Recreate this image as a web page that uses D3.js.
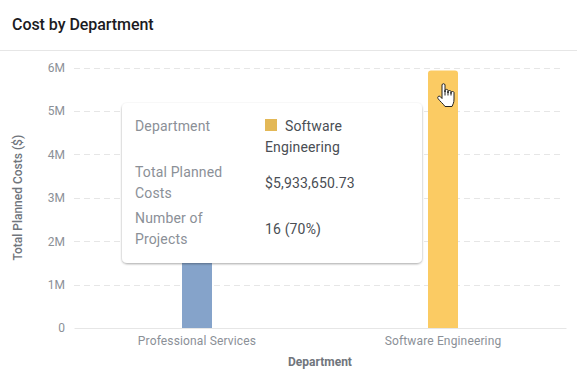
<!DOCTYPE html>
<html>
<head>
<meta charset="utf-8">
<script src="https://cdn.jsdelivr.net/npm/d3@7"></script>
<style>
body { margin: 0; background: #fff; font-family: Roboto, sans-serif; }
svg { display: block; }
text { font-family: Roboto, sans-serif; }
</style>
</head>
<body>
<div id="my_dataviz"></div>
<script>
var departments = ["Professional Services", "Software Engineering"];
var plannedCosts = [2500000, 5933650.73];
var barColors = ["#85a3ca", "#fbcb63"];
var yTicks = [0, 1000000, 2000000, 3000000, 4000000, 5000000, 6000000];
var tipLabels = [["Department"], ["Total Planned", "Costs"], ["Number of", "Projects"]];
var tipDepartment = ["Software", "Engineering"];
var tipCost = "$5,933,650.73";
var tipProjects = "16 (70%)";

var width = 577, height = 372;
var margin = {top: 67.5, right: 11, bottom: 44, left: 73};

var svg = d3.select("#my_dataviz")
  .append("svg")
  .attr("width", width)
  .attr("height", height);

// tooltip shadow
var defs = svg.append("defs");
var shadow = defs.append("filter").attr("id", "tipShadow")
  .attr("x", "-5%").attr("y", "-5%").attr("width", "110%").attr("height", "112%");
shadow.append("feDropShadow").attr("dx", 0).attr("dy", 1).attr("stdDeviation", 0.8)
  .attr("flood-color", "#000").attr("flood-opacity", 0.35);

// header
svg.append("text")
  .attr("x", 12).attr("y", 30)
  .style("font-size", "16px").style("font-weight", 500).style("fill", "#1b1b22")
  .style("letter-spacing", "-0.05px")
  .text("Cost by Department");
svg.append("line")
  .attr("x1", 0).attr("x2", width).attr("y1", 50.5).attr("y2", 50.5)
  .style("stroke", "#e6e6e6");

var x = d3.scaleBand()
  .domain(departments)
  .range([margin.left + 1, width - margin.right]);

var y = d3.scaleLinear()
  .domain([0, 6000000])
  .range([height - margin.bottom, margin.top]);

// gridlines
svg.append("g").selectAll("line")
  .data(yTicks.filter(function(d) { return d > 0; }))
  .enter().append("line")
  .attr("x1", margin.left + 1).attr("x2", width - 13)
  .attr("y1", function(d) { return Math.round(y(d)) + 0.5; })
  .attr("y2", function(d) { return Math.round(y(d)) + 0.5; })
  .style("stroke", "#e6e6e6").style("stroke-dasharray", "6,4");

// y axis
var yAxis = svg.append("g")
  .attr("transform", "translate(" + margin.left + ",0)")
  .call(d3.axisLeft(y).tickValues(yTicks).tickSize(0).tickPadding(8)
    .tickFormat(function(d) { return d === 0 ? "0" : (d / 1000000) + "M"; }));
yAxis.select(".domain").remove();
yAxis.selectAll("text").style("font-size", "12px").style("fill", "#8b9097");

// x axis
var xAxis = svg.append("g")
  .attr("transform", "translate(0," + (height - margin.bottom) + ")")
  .call(d3.axisBottom(x).tickSize(0).tickPadding(8));
xAxis.select(".domain").style("stroke", "#e6e6e6");
xAxis.selectAll("text").style("font-size", "12px").style("fill", "#8b9097").style("letter-spacing", "0.15px");

// axis labels
svg.append("text")
  .attr("transform", "translate(22," + ((y(0) + y(6000000)) / 2) + ") rotate(-90)")
  .attr("text-anchor", "middle")
  .style("font-size", "12px").style("font-weight", 500).style("fill", "#70757c")
  .text("Total Planned Costs ($)");
svg.append("text")
  .attr("x", 320).attr("y", 366)
  .attr("text-anchor", "middle")
  .style("font-size", "12px").style("font-weight", 700).style("fill", "#70757c")
  .text("Department");

// bars
var barW = 30;
svg.append("g").selectAll("path")
  .data(departments)
  .enter().append("path")
  .attr("d", function(d, i) {
    var bx = x(d) + x.bandwidth() / 2 - barW / 2, top = y(plannedCosts[i]), r = 3;
    return "M" + bx + "," + y(0) + "V" + (top + r) + "Q" + bx + "," + top + " " + (bx + r) + "," + top +
      "H" + (bx + barW - r) + "Q" + (bx + barW) + "," + top + " " + (bx + barW) + "," + (top + r) + "V" + y(0) + "Z";
  })
  .style("fill", function(d, i) { return barColors[i]; });

// tooltip
var tip = svg.append("g").attr("transform", "translate(122,103)");
tip.append("rect")
  .attr("width", 300).attr("height", 160).attr("rx", 5)
  .style("fill", "#fff").style("filter", "url(#tipShadow)");

var labelY = [[28], [74, 95], [120, 141]];
tipLabels.forEach(function(lines, i) {
  lines.forEach(function(line, j) {
    tip.append("text")
      .attr("x", 13).attr("y", labelY[i][j])
      .style("font-size", "14px").style("fill", "#8b9097").style("letter-spacing", "0.15px")
      .text(line);
  });
});

tip.append("rect")
  .attr("x", 143).attr("y", 16).attr("width", 12).attr("height", 12)
  .style("fill", "#e3b857");

function tipValue(tx, ty, s) {
  tip.append("text")
    .attr("x", tx).attr("y", ty)
    .style("font-size", "14px").style("fill", "#4a4e54").style("letter-spacing", "0.15px")
    .text(s);
}
tipValue(163, 28, tipDepartment[0]);
tipValue(143, 49, tipDepartment[1]);
tipValue(143, 85, tipCost);
tipValue(143, 131, tipProjects);

// hand cursor
svg.append("path")
  .attr("transform", "translate(437,83)")
  .attr("d", "M5,2 C5,0.3 8,0.3 8,2 V9 V7.5 C8,6 11,6 11,7.5 V10 V8.5 C11,7.2 14,7.2 14,8.5 V10.5 V9.5 C14,8.2 17,8.2 17,9.5 V16 C17,20 16,21 15,23.5 H8 C6.5,21 3,18.5 1,15.5 C0,14 1.8,12.3 3.2,13.5 L5,15.5 Z M8,7.5 V12.5 M11,8.5 V12.5 M14,9.5 V12.5")
  .style("fill", "#fff").style("stroke", "#222").style("stroke-width", 1).style("stroke-linejoin", "round");
</script>
</body>
</html>
